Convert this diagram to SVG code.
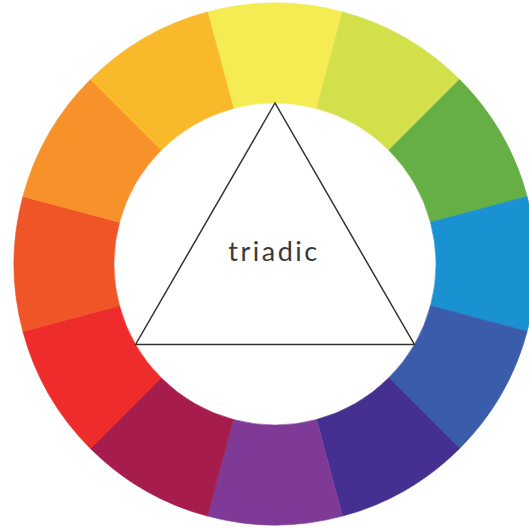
<svg xmlns="http://www.w3.org/2000/svg" width="529" height="528" viewBox="0 0 529 528">
<defs>
<path id="seg" d="M -67.55 -252.11 A 261 261 0 0 1 67.55 -252.11 L 41.67 -155.51 A 161 161 0 0 0 -41.67 -155.51 Z"/>
</defs>
<style>
.s{stroke-width:0.6;stroke-linejoin:round}
.tri{fill:none;stroke:#333;stroke-width:1.5;stroke-linejoin:miter}
.lbl{font-family:"Lato","Open Sans",sans-serif;font-size:27px;fill:#3a3a3a;letter-spacing:2.5px;text-anchor:middle}
</style>
<rect width="529" height="528" fill="#fff"/>
<g id="wheel" transform="translate(275 264)">
<use href="#seg" class="s" fill="#F5EC54" stroke="#F5EC54" transform="rotate(0)"/>
<use href="#seg" class="s" fill="#D3E04B" stroke="#D3E04B" transform="rotate(30)"/>
<use href="#seg" class="s" fill="#65AF45" stroke="#65AF45" transform="rotate(60)"/>
<use href="#seg" class="s" fill="#1A91D0" stroke="#1A91D0" transform="rotate(90)"/>
<use href="#seg" class="s" fill="#3B5CAA" stroke="#3B5CAA" transform="rotate(120)"/>
<use href="#seg" class="s" fill="#452F90" stroke="#452F90" transform="rotate(150)"/>
<use href="#seg" class="s" fill="#7F3A98" stroke="#7F3A98" transform="rotate(180)"/>
<use href="#seg" class="s" fill="#A61C4C" stroke="#A61C4C" transform="rotate(210)"/>
<use href="#seg" class="s" fill="#EE2C2B" stroke="#EE2C2B" transform="rotate(240)"/>
<use href="#seg" class="s" fill="#EF5527" stroke="#EF5527" transform="rotate(270)"/>
<use href="#seg" class="s" fill="#F7922A" stroke="#F7922A" transform="rotate(300)"/>
<use href="#seg" class="s" fill="#F8B92B" stroke="#F8B92B" transform="rotate(330)"/>
</g>
<g id="triangle">
<polygon class="tri" points="275,103 135.6,344.5 414.4,344.5"/>
<text class="lbl" x="274" y="261">triadic</text>
</g>
</svg>
